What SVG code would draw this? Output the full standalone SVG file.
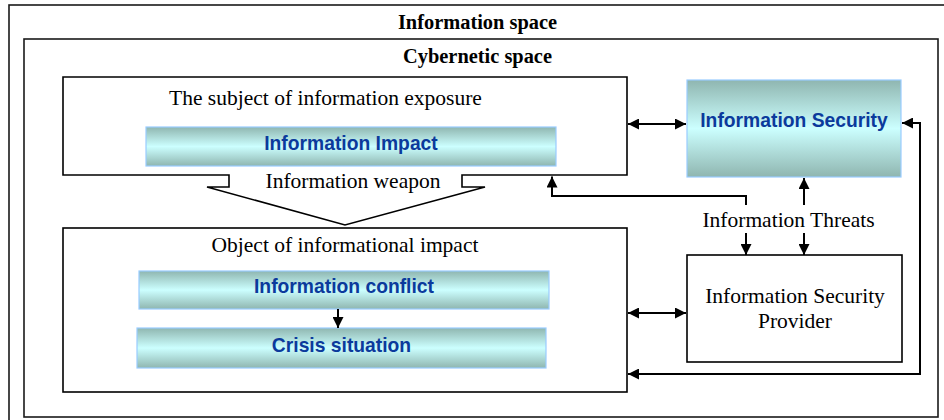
<svg xmlns="http://www.w3.org/2000/svg" width="944" height="420" viewBox="0 0 944 420">
<style>
.frame{fill:none;stroke:#1a1a1a;stroke-width:1.6}
.box{fill:#fff;stroke:#000;stroke-width:1.6}
.bar{fill:url(#bargrad);stroke:#99ccff;stroke-width:1.2}
.serif{font-family:"Liberation Serif","Times New Roman",serif;font-size:21.5px;fill:#000;text-anchor:middle}
.title{font-family:"Liberation Serif","Times New Roman",serif;font-size:20.4px;font-weight:bold;fill:#000;text-anchor:middle}
.bartext{font-family:"Liberation Sans",Arial,sans-serif;font-size:19.3px;font-weight:bold;fill:#0b3a9c;text-anchor:middle}
.conn{fill:none;stroke:#000;stroke-width:2}
</style>
<defs>
<linearGradient id="bargrad" x1="0" y1="0" x2="0" y2="1">
<stop offset="0" stop-color="#8fb6b0"/>
<stop offset="0.5" stop-color="#ccffff"/>
<stop offset="1" stop-color="#8fb6b0"/>
</linearGradient>
<marker id="ah" viewBox="0 0 12 12" refX="12" refY="6" markerWidth="12" markerHeight="11" markerUnits="userSpaceOnUse" orient="auto-start-reverse">
<path d="M0,0 L12,6 L0,12 Z" fill="#000"/>
</marker>
</defs>
<rect width="944" height="420" fill="#fff"/>
<g id="information-space">
<rect class="frame" x="9" y="5" width="937" height="420"/>
<text class="title" x="477.5" y="29">Information space</text>
</g>
<g id="cybernetic-space">
<rect class="frame" x="24" y="39" width="914" height="378"/>
<text class="title" x="477.5" y="63">Cybernetic space</text>
</g>
<g id="subject">
<path class="box" d="M63,77 H627 V175 H462 V187 H485 L345,225 L207,187 H229 V175 H63 Z"/>
<text class="serif" x="325.5" y="105">The subject of information exposure</text>
<text class="serif" x="353" y="188">Information weapon</text>
</g>
<g id="information-impact">
<rect class="bar" x="146" y="127" width="410" height="39"/>
<text class="bartext" x="351" y="150">Information Impact</text>
</g>
<g id="object">
<rect class="box" x="63" y="228" width="564" height="164"/>
<text class="serif" x="345" y="251.5">Object of informational impact</text>
</g>
<g id="information-conflict">
<rect class="bar" x="139" y="271" width="410" height="38"/>
<text class="bartext" x="344" y="293.3">Information conflict</text>
</g>
<g id="crisis-situation">
<rect class="bar" x="137" y="328" width="409" height="40"/>
<text class="bartext" x="341.5" y="352.3">Crisis situation</text>
</g>
<g id="information-security">
<rect class="bar" x="687" y="80" width="214" height="97"/>
<text class="bartext" x="794" y="127">Information Security</text>
</g>
<g id="information-threats">
<text class="serif" x="788.5" y="226.5">Information Threats</text>
</g>
<g id="provider">
<rect class="box" x="687" y="255" width="215" height="107"/>
<text class="serif" x="795" y="303">Information Security</text>
<text class="serif" x="795" y="328">Provider</text>
</g>
<g id="connectors">
<path class="conn" d="M628,124 H686" marker-start="url(#ah)" marker-end="url(#ah)"/>
<path class="conn" d="M628,313 H686" marker-start="url(#ah)" marker-end="url(#ah)"/>
<path class="conn" d="M628,374 H920 V123 H902" marker-start="url(#ah)" marker-end="url(#ah)"/>
<path class="conn" d="M746,205 V196 H552 V176.5" marker-end="url(#ah)"/>
<path class="conn" d="M804,205 V178" marker-end="url(#ah)"/>
<path class="conn" d="M746,233 V255" marker-end="url(#ah)"/>
<path class="conn" d="M804,233 V255" marker-end="url(#ah)"/>
<path class="conn" d="M338,309 V328" marker-end="url(#ah)"/>
</g>
</svg>
